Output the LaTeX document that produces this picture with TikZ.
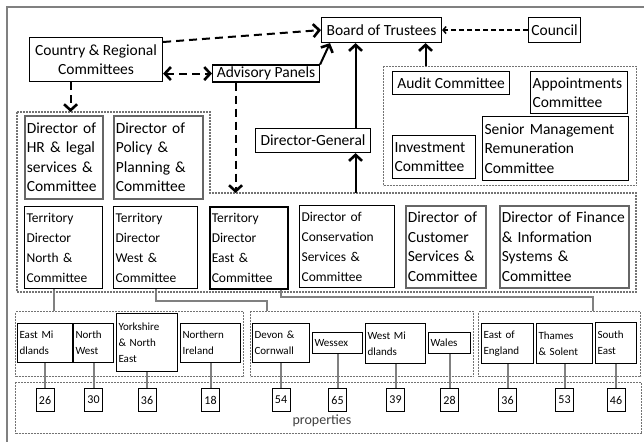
\documentclass[tikz,border=0pt]{standalone}
\usepackage{fontspec}
\setmainfont{Carlito}
\usetikzlibrary{arrows.meta}
\begin{document}
\begin{tikzpicture}[x=1pt,y=-1pt,
  every node/.style={inner sep=2pt},
  big/.style={font=\fontsize{15.5}{19.5}\selectfont},
  mid/.style={font=\fontsize{13.5}{20}\selectfont},
  sml/.style={font=\fontsize{11}{16}\selectfont},
  bx/.style={draw=black, line width=1.1pt, anchor=north west, align=left},
  gbx/.style={draw=black!60, line width=1.6pt, anchor=north west, align=left},
  grp/.style={draw=black!55, line width=1.2pt, dash pattern=on 2pt off 1pt},
  grpn/.style={grp, anchor=north west, inner sep=0pt},
  con/.style={draw=black!50, line width=2pt},
  hd/.style={-{Straight Barb[length=6pt,width=13pt,line width=2.6pt]}},
  dhd/.style={{Straight Barb[length=6pt,width=13pt,line width=2.6pt]}-{Straight Barb[length=6pt,width=13pt,line width=2.6pt]}},
  dsh/.style={line width=2pt, dash pattern=on 8pt off 5pt},
  num/.style={draw=black, line width=1.1pt, anchor=north, minimum width=18pt, minimum height=23pt, inner sep=1pt, font=\fontsize{12}{14}\selectfont},
]
\useasboundingbox (0,0) rectangle (644,441);
\draw[black!50, line width=2pt] (7,7) rectangle (660,460);

% top
\node[bx, big, minimum width=120pt, minimum height=25pt, align=center] (board) at (321,17) {Board of Trustees};
\node[bx, big, minimum width=52pt, minimum height=25pt, align=center] (council) at (528,17) {Council};
\node[bx, big, minimum width=133pt, minimum height=44pt, align=center] (crc) at (29,37) {Country \& Regional\\Committees};
\node[bx, big, minimum width=107pt, minimum height=17pt, inner sep=0.5pt, align=center] (adv) at (212,64.5) {Advisory Panels};
\node[bx, big, minimum width=115pt, minimum height=24pt, align=center] (dg) at (255,128) {Director-General};

% committees
\node[grpn, minimum width=253pt, minimum height=119pt] (cg) at (383,66) {};
\node[bx, big, minimum width=117pt, minimum height=23pt, align=center] (audit) at (392,71) {Audit Committee};
\node[bx, big, minimum width=97pt, minimum height=42pt, text width=93pt] (appt) at (530,71) {Appointments\\Committee};
\node[bx, big, minimum width=83pt, minimum height=43pt, text width=79pt] (invest) at (392,135) {Investment\\Committee};
\node[bx, big, minimum width=146pt, minimum height=64pt, text width=142pt] (smrc) at (482,116) {Senior Management\\Remuneration\\Committee};

% directors group
\coordinate (L1) at (17,112); \coordinate (L2) at (210,112); \coordinate (L3) at (210,193);
\coordinate (L4) at (636,193); \coordinate (L5) at (636,292); \coordinate (L6) at (17,292);
\draw[grp] (L1) -- (L2) -- (L3) -- (L4) -- (L5) -- (L6) -- cycle;

\node[gbx, big, minimum width=78pt, minimum height=83pt, text width=74pt] (hr) at (24,115) {Director of\\HR \& legal\\services \&\\Committee};
\node[gbx, big, minimum width=89pt, minimum height=83pt, text width=85pt] (pol) at (113,115) {Director of\\Policy \&\\Planning \&\\Committee};
\node[bx, mid, minimum width=78pt, minimum height=82pt, text width=74pt] (tn) at (24,206) {Territory\\Director\\North \&\\Committee};
\node[bx, mid, minimum width=84pt, minimum height=82pt, text width=80pt] (tw) at (113,206) {Territory\\Director\\West \&\\Committee};
\node[bx, mid, line width=1.6pt, minimum width=78pt, minimum height=82pt, text width=74pt] (te) at (209,206) {Territory\\Director\\East \&\\Committee};
\node[bx, mid, minimum width=95pt, minimum height=82pt, text width=91pt] (cons) at (299,205) {Director of\\Conservation\\Services \&\\Committee};
\node[gbx, big, minimum width=80pt, minimum height=82pt, text width=76pt] (cust) at (405,205) {Director of\\Customer\\Services \&\\Committee};
\node[gbx, big, minimum width=129pt, minimum height=82pt, text width=125pt] (fin) at (499,205) {Director of Finance\\\& Information\\Systems \&\\Committee};

% region groups
\node[grpn, minimum width=228pt, minimum height=65pt] (g1) at (15,311) {};
\node[grpn, minimum width=223pt, minimum height=65pt] (g2) at (250,311) {};
\node[grpn, minimum width=162pt, minimum height=65pt] (g3) at (478,311) {};
\node[grpn, minimum width=626pt, minimum height=51pt] (props) at (15,382) {};
\node[font=\fontsize{14}{16}\selectfont, text=black!75] (plab) at (322,421) {properties};

\node[bx, sml, minimum width=55pt, minimum height=39pt, text width=51pt] (em) at (17,323) {East Mi\\dlands};
\node[bx, sml, minimum width=40pt, minimum height=39pt, text width=36pt] (nw) at (73,323) {North\\West};
\node[bx, sml, minimum width=61pt, minimum height=58pt, text width=57pt] (yk) at (116,313) {Yorkshire\\\& North\\East};
\node[bx, sml, minimum width=60pt, minimum height=39pt, text width=56pt] (ni) at (180,323) {Northern\\Ireland};
\node[bx, sml, minimum width=57pt, minimum height=39pt, text width=53pt] (dc) at (252,323) {Devon \&\\Cornwall};
\node[bx, sml, minimum width=50pt, minimum height=21pt, text width=46pt] (wx) at (312,332) {Wessex};
\node[bx, sml, minimum width=60pt, minimum height=40pt, text width=56pt] (wm) at (365,323) {West Mi\\dlands};
\node[bx, sml, minimum width=42pt, minimum height=21pt, text width=38pt] (wa) at (428,332) {Wales};
\node[bx, sml, minimum width=52pt, minimum height=40pt, text width=48pt] (ee) at (481,323) {East of\\England};
\node[bx, sml, minimum width=56pt, minimum height=40pt, text width=52pt] (ts) at (536,323) {Thames\\\& Solent};
\node[bx, sml, minimum width=41pt, minimum height=41pt, text width=37pt] (se) at (595,322) {South\\East};

\node[num] (n1) at (em.south |- 0,388) {26};
\node[num] (n2) at (nw.south |- 0,388) {30};
\node[num] (n3) at (yk.south |- 0,388) {36};
\node[num] (n4) at (ni.south |- 0,388) {18};
\node[num] (n5) at (dc.south |- 0,388) {54};
\node[num] (n6) at (wx.south |- 0,388) {65};
\node[num] (n7) at (wm.south |- 0,388) {39};
\node[num] (n8) at (wa.south |- 0,388) {28};
\node[num] (n9) at (ee.south |- 0,388) {36};
\node[num] (n10) at (ts.south |- 0,388) {53};
\node[num] (n11) at (se.south |- 0,388) {46};

\foreach \n/\r in {n1/em,n2/nw,n3/yk,n4/ni,n5/dc,n6/wx,n7/wm,n8/wa,n9/ee,n10/ts,n11/se}
  \draw[con] (\n.north) -- (\n.north |- \r.south);

% territory connectors
\coordinate (k1) at ([xshift=-10pt]tn.south);
\draw[con] (k1) -- (k1 |- g1.north);
\coordinate (k2) at ([xshift=17pt]g2.north west);
\draw[con] (tw.south) -- (tw.south |- 0,301) -| (k2);
\coordinate (k3a) at ([xshift=32pt]te.south);
\coordinate (k3) at ([xshift=115pt]g3.north west);
\draw[con] (k3a) -- (k3a |- 0,297) -| (k3);

% arrows
\draw[dsh, hd] ([yshift=-5pt]crc.north east) -- (board.west);
\draw[dsh, dhd] (crc.east |- adv.west) -- (adv.west);
\coordinate (c1) at ([xshift=-25.5pt]crc.south);
\draw[dsh, hd] (c1) -- (c1 |- L1);
\coordinate (a1) at ([xshift=-30.5pt]adv.south);
\draw[dsh, hd] (a1) -- (a1 |- L3);
\draw[line width=2pt, hd] (adv.north east) -- ([xshift=9pt]board.south west);
\coordinate (d1) at ([xshift=42.5pt]dg.north);
\draw[line width=2pt, hd] (d1) -- (d1 |- board.south);
\coordinate (d2) at ([xshift=42.5pt]dg.south);
\draw[line width=2pt, hd] (d2 |- L3) -- (d2);
\coordinate (b1) at ([xshift=44pt]board.south);
\draw[line width=2pt, hd] (b1 |- cg.north) -- (b1);
\draw[line width=1.3pt, dash pattern=on 5pt off 3pt, -{Straight Barb[length=3pt,width=7pt,line width=1.5pt]}] (council.west) -- (board.east);
\end{tikzpicture}
\end{document}
